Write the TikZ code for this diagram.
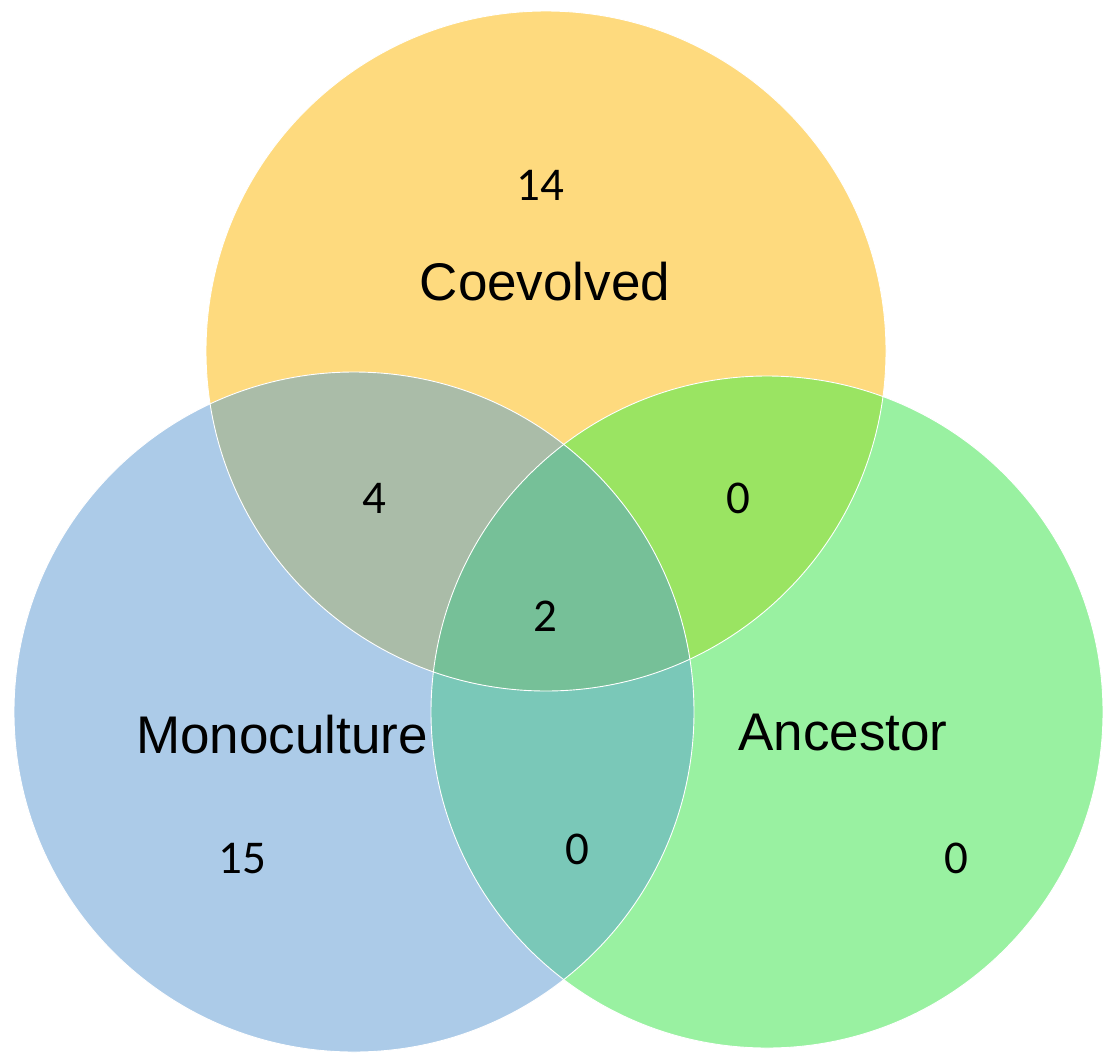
\documentclass[tikz,border=0pt]{standalone}
\usepackage{fontspec}
\setmainfont{Liberation Sans}
\newfontfamily\countfont{Carlito}

% set colours and their overlaps
\definecolor{coevo}{HTML}{FEDA7E}
\definecolor{mono}{HTML}{ACCBE8}
\definecolor{ances}{HTML}{99F1A1}
\definecolor{coevomono}{HTML}{AABCA8}
\definecolor{coevoances}{HTML}{9AE462}
\definecolor{monoances}{HTML}{7AC8B8}
\definecolor{allthree}{HTML}{76C098}

\begin{document}
\begin{tikzpicture}[x=1pt,y=-1pt,
  setlabel/.style={font=\fontsize{53}{60}\selectfont, anchor=base, inner sep=0pt},
  countlabel/.style={font=\countfont\fontsize{47}{52}\selectfont, anchor=base, inner sep=0pt},
  rim/.style={draw=white, line width=0.9pt}]
\useasboundingbox (0,0) rectangle (1103,1053);

% circle centres and radii
\coordinate (cY) at (546,351);
\coordinate (cB) at (354,712);
\coordinate (cG) at (767,712);
\def\rY{340pt}
\def\rB{340pt}
\def\rG{336pt}

% single sets
\fill[coevo] (cY) circle[radius=\rY];
\fill[mono]  (cB) circle[radius=\rB];
\fill[ances] (cG) circle[radius=\rG];

% pairwise overlaps
\begin{scope}
  \clip (cY) circle[radius=\rY];
  \fill[coevomono] (cB) circle[radius=\rB];
  \fill[coevoances] (cG) circle[radius=\rG];
\end{scope}
\begin{scope}
  \clip (cB) circle[radius=\rB];
  \fill[monoances] (cG) circle[radius=\rG];
\end{scope}

% all three
\begin{scope}
  \clip (cY) circle[radius=\rY];
  \clip (cB) circle[radius=\rB];
  \fill[allthree] (cG) circle[radius=\rG];
\end{scope}

% thin rims
\draw[rim] (cY) circle[radius=\rY];
\draw[rim] (cB) circle[radius=\rB];
\draw[rim] (cG) circle[radius=\rG];

% set names
\node[setlabel] (coevolved)   at (545,300) {Coevolved};
\node[setlabel] (monoculture) at (282,753) {Monoculture};
\node[setlabel] (ancestor)    at (843,750) {Ancestor};

% region counts
\node[countlabel] (nY)   at (540,200) {14};
\node[countlabel] (nB)   at (242,873) {15};
\node[countlabel] (nG)   at (956,873) {0};
\node[countlabel] (nYB)  at (374,513) {4};
\node[countlabel] (nYG)  at (738,513) {0};
\node[countlabel] (nBG)  at (577,864) {0};
\node[countlabel] (nYBG) at (545,631) {2};
\end{tikzpicture}
\end{document}
